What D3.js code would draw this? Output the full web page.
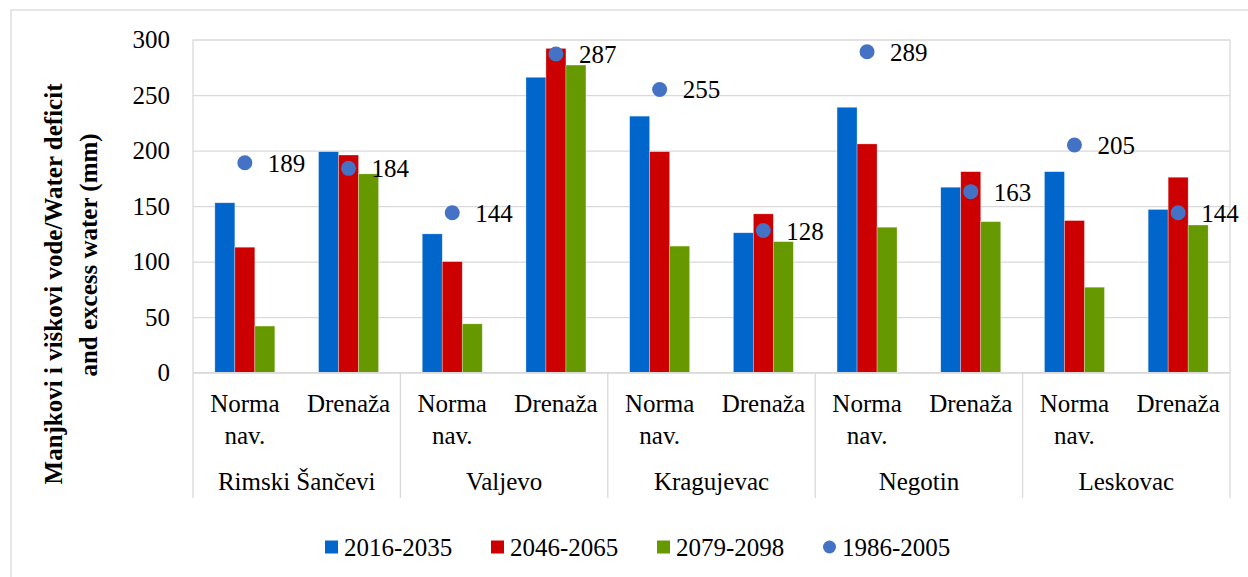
<!DOCTYPE html>
<html>
<head>
<meta charset="utf-8">
<script src="https://cdn.jsdelivr.net/npm/d3@7"></script>
<style>
  body { margin: 0; background: #fff; }
  svg { display: block; }
  .grid line { stroke: #d9d9d9; stroke-width: 1.3; }
  .frame { fill: none; stroke: #d9d9d9; stroke-width: 1.3; }
  .tick text { font-size: 25px; fill: #000; }
</style>
</head>
<body>
<svg width="1248" height="577"></svg>
<script>
const cities = ["Rimski Šančevi", "Valjevo", "Kragujevac", "Negotin", "Leskovac"];
const kinds = ["Norma nav.", "Drenaža"];
const series = ["2016-2035", "2046-2065", "2079-2098"];
const colors = ["#0066cc", "#cc0000", "#669900"];
const dotName = "1986-2005";
const dotColor = "#4472c4";

// order: Rimski N, D, Valjevo N, D, Kragujevac N, D, Negotin N, D, Leskovac N, D
const s2016 = [153, 199, 125, 266, 231, 126, 239, 167, 181, 147];
const s2046 = [113, 196, 100, 292, 199, 143, 206, 181, 137, 176];
const s2079 = [42, 179, 44, 277, 114, 118, 131, 136, 77, 133];
const s1986 = [189, 184, 144, 287, 255, 128, 289, 163, 205, 144];
const yTicks = [0, 50, 100, 150, 200, 250, 300];

const serifFont = "'Liberation Serif', 'Times New Roman', Times, 'Nimbus Roman', 'Nimbus Roman No9 L', Tinos, 'Noto Serif', 'DejaVu Serif', FreeSerif, serif";

const svg = d3.select("svg").attr("font-family", serifFont);

const plotLeft = 193, plotRight = 1230, plotTop = 39.5, plotBottom = 372.7;

const cats = [];
cities.forEach(c => kinds.forEach(k => cats.push({ city: c, kind: k })));
const data = cats.map((d, i) => ({
  ...d,
  key: i,
  values: [s2016[i], s2046[i], s2079[i]],
  dot: s1986[i]
}));

const x = d3.scaleBand().domain(d3.range(data.length)).range([plotLeft, plotRight]);
const xs = d3.scaleBand().domain(series).range([-30, 30]);
const y = d3.scaleLinear().domain([0, 300]).range([plotBottom, plotTop]);

// outer chart border
svg.append("rect").attr("class", "frame")
  .attr("x", 11).attr("y", 10).attr("width", 1260).attr("height", 600);

// gridlines + y axis labels
const yAxis = svg.append("g")
  .attr("class", "grid")
  .attr("transform", `translate(${plotLeft},0)`)
  .call(d3.axisLeft(y).tickValues(yTicks).tickSize(-(plotRight - plotLeft)).tickPadding(23))
  .attr("font-family", serifFont);
yAxis.select(".domain").remove();

// plot frame sides
svg.append("line").attr("x1", plotLeft).attr("x2", plotLeft).attr("y1", plotTop).attr("y2", 498)
  .attr("stroke", "#d9d9d9").attr("stroke-width", 1.3);
svg.append("line").attr("x1", plotRight).attr("x2", plotRight).attr("y1", plotTop).attr("y2", 498)
  .attr("stroke", "#d9d9d9").attr("stroke-width", 1.3);

// city separators below axis
cities.forEach((c, i) => {
  if (i === 0) return;
  const xx = x(i * 2);
  svg.append("line").attr("x1", xx).attr("x2", xx).attr("y1", plotBottom).attr("y2", 498)
    .attr("stroke", "#d9d9d9").attr("stroke-width", 1.3);
});

// bars
const groups = svg.selectAll("g.cat")
  .data(data)
  .enter()
  .append("g")
  .attr("class", "cat")
  .attr("transform", d => `translate(${x(d.key) + x.bandwidth() / 2},0)`);

groups.selectAll("rect")
  .data(d => d.values.map((v, j) => ({ v, s: series[j], c: colors[j] })))
  .enter()
  .append("rect")
  .attr("x", d => xs(d.s))
  .attr("width", xs.bandwidth())
  .attr("y", d => y(d.v))
  .attr("height", d => y(0) - y(d.v))
  .attr("fill", d => d.c)
  .attr("stroke", "#ffffff")
  .attr("stroke-opacity", 0.5)
  .attr("stroke-width", 0.6);

// dots + labels
groups.append("circle")
  .attr("cx", 0)
  .attr("cy", d => y(d.dot))
  .attr("r", 7.5)
  .attr("fill", dotColor);

groups.append("text")
  .attr("x", 23)
  .attr("y", d => y(d.dot) + 9)
  .attr("font-size", 25)
  .text(d => d.dot);

// category labels
groups.each(function(d) {
  const g = d3.select(this);
  const parts = d.kind === "Norma nav." ? ["Norma", "nav."] : ["Drenaža"];
  parts.forEach((p, k) => {
    g.append("text")
      .attr("x", 0)
      .attr("y", 412 + k * 32)
      .attr("text-anchor", "middle")
      .attr("font-size", 25)
      .text(p);
  });
});

cities.forEach((c, i) => {
  svg.append("text")
    .attr("x", x(i * 2) + x.bandwidth())
    .attr("y", 490)
    .attr("text-anchor", "middle")
    .attr("font-size", 25)
    .text(c);
});

// axis line at zero
svg.append("line").attr("x1", plotLeft).attr("x2", plotRight).attr("y1", plotBottom).attr("y2", plotBottom)
  .attr("stroke", "#d9d9d9").attr("stroke-width", 1.3);

// y title
const titleLines = [
  { t: "Manjkovi i viškovi vode/Water deficit", x: 62, y: 284 },
  { t: "and excess water (mm)", x: 97, y: 255 }
];
titleLines.forEach(l => {
  svg.append("text")
    .attr("transform", `translate(${l.x},${l.y}) rotate(-90)`)
    .attr("text-anchor", "middle")
    .attr("font-size", 25)
    .attr("font-weight", "bold")
    .text(l.t);
});

// legend
const legendItems = [
  { name: series[0], color: colors[0], type: "rect" },
  { name: series[1], color: colors[1], type: "rect" },
  { name: series[2], color: colors[2], type: "rect" },
  { name: dotName, color: dotColor, type: "circle" }
];
const legend = svg.selectAll("g.legend")
  .data(legendItems)
  .enter()
  .append("g")
  .attr("class", "legend")
  .attr("transform", (d, i) => `translate(${325 + i * 166},547)`);

legend.filter(d => d.type === "rect")
  .append("rect")
  .attr("x", 0).attr("y", -6.5).attr("width", 13).attr("height", 13)
  .attr("fill", d => d.color);
legend.filter(d => d.type === "circle")
  .append("circle")
  .attr("cx", 6.5).attr("cy", 0).attr("r", 6.5)
  .attr("fill", d => d.color);
legend.append("text")
  .attr("x", 19)
  .attr("y", 8.5)
  .attr("font-size", 25)
  .text(d => d.name);
</script>
</body>
</html>
